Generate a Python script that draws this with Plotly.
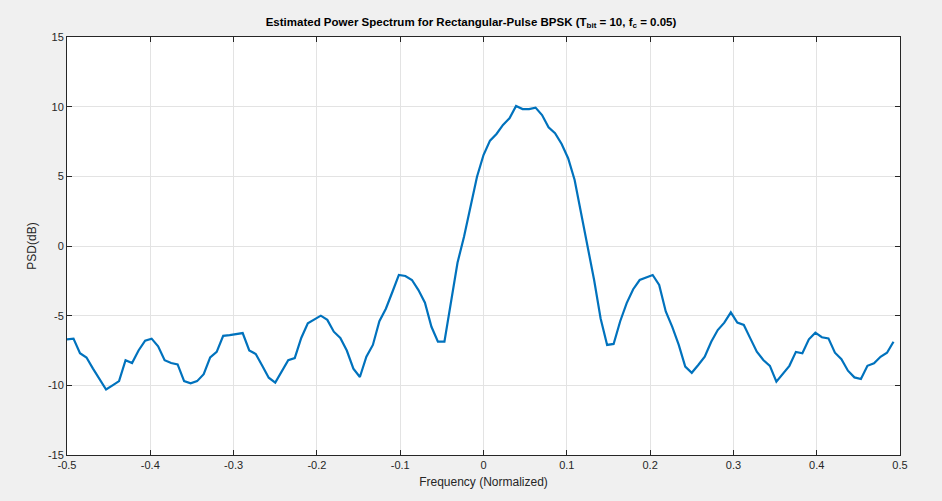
import plotly.graph_objects as go

# Normalized frequency grid (128 bins)
freq = [-0.5, -0.4922, -0.4844, -0.4766, -0.4688, -0.4609, -0.4531, -0.4453,
        -0.4375, -0.4297, -0.4219, -0.4141, -0.4062, -0.3984, -0.3906, -0.3828,
        -0.375, -0.3672, -0.3594, -0.3516, -0.3438, -0.3359, -0.3281, -0.3203,
        -0.3125, -0.3047, -0.2969, -0.2891, -0.2812, -0.2734, -0.2656, -0.2578,
        -0.25, -0.2422, -0.2344, -0.2266, -0.2188, -0.2109, -0.2031, -0.1953,
        -0.1875, -0.1797, -0.1719, -0.1641, -0.1562, -0.1484, -0.1406, -0.1328,
        -0.125, -0.1172, -0.1094, -0.1016, -0.0938, -0.0859, -0.0781, -0.0703,
        -0.0625, -0.0547, -0.0469, -0.0391, -0.0312, -0.0234, -0.0156, -0.0078,
        0.0, 0.0078, 0.0156, 0.0234, 0.0312, 0.0391, 0.0469, 0.0547,
        0.0625, 0.0703, 0.0781, 0.0859, 0.0938, 0.1016, 0.1094, 0.1172,
        0.125, 0.1328, 0.1406, 0.1484, 0.1562, 0.1641, 0.1719, 0.1797,
        0.1875, 0.1953, 0.2031, 0.2109, 0.2188, 0.2266, 0.2344, 0.2422,
        0.25, 0.2578, 0.2656, 0.2734, 0.2812, 0.2891, 0.2969, 0.3047,
        0.3125, 0.3203, 0.3281, 0.3359, 0.3438, 0.3516, 0.3594, 0.3672,
        0.375, 0.3828, 0.3906, 0.3984, 0.4062, 0.4141, 0.4219, 0.4297,
        0.4375, 0.4453, 0.4531, 0.4609, 0.4688, 0.4766, 0.4844, 0.4922]

# Estimated PSD in dB
psd_db = [-6.7, -6.65, -7.7, -8.0, -8.8, -9.6, -10.3, -10.0,
          -9.7, -8.2, -8.4, -7.5, -6.8, -6.65, -7.2, -8.2,
          -8.4, -8.5, -9.7, -9.85, -9.7, -9.2, -8.0, -7.6,
          -6.45, -6.4, -6.35, -6.25, -7.5, -7.75, -8.6, -9.45,
          -9.8, -9.0, -8.2, -8.05, -6.6, -5.55, -5.25, -5.0,
          -5.3, -6.15, -6.6, -7.5, -8.8, -9.4, -7.95, -7.1,
          -5.4, -4.5, -3.3, -2.08, -2.15, -2.44, -3.16, -4.07,
          -5.8, -6.87, -6.87, -4.1, -1.2, 0.67, 2.8, 4.97,
          6.53, 7.56, 8.04, 8.69, 9.17, 10.05, 9.83, 9.83,
          9.93, 9.4, 8.52, 8.09, 7.32, 6.3, 4.74, 2.35,
          0.19, -2.44, -5.2, -7.1, -7.03, -5.4, -4.1, -3.1,
          -2.44, -2.25, -2.08, -2.8, -4.7, -5.8, -7.1, -8.66,
          -9.1, -8.54, -7.95, -6.87, -6.03, -5.5, -4.76, -5.5,
          -5.67, -6.63, -7.59, -8.18, -8.6, -9.74, -9.14, -8.6,
          -7.6, -7.7, -6.7, -6.22, -6.55, -6.63, -7.66, -8.13,
          -8.95, -9.43, -9.55, -8.6, -8.42, -7.95, -7.66, -6.87]

x_ticks = [-0.5, -0.4, -0.3, -0.2, -0.1, 0, 0.1, 0.2, 0.3, 0.4, 0.5]
x_tick_text = ["-0.5", "-0.4", "-0.3", "-0.2", "-0.1", "0", "0.1", "0.2", "0.3", "0.4", "0.5"]
y_ticks = [-15, -10, -5, 0, 5, 10, 15]
y_tick_text = ["-15", "-10", "-5", "0", "5", "10", "15"]

title_text = "<b>Estimated Power Spectrum for Rectangular-Pulse BPSK (T<sub>bit</sub> = 10, f<sub>c</sub> = 0.05)</b>"

fig = go.Figure()
fig.add_trace(go.Scatter(
    x=freq, y=psd_db, mode="lines",
    line=dict(color="#0072BD", width=2.2),
    showlegend=False,
))

axis_common = dict(
    showline=True, linecolor="#262626", linewidth=1, mirror="ticks",
    ticks="inside", ticklen=5, tickcolor="#262626", tickwidth=1,
    showgrid=True, gridcolor="#e3e3e3", gridwidth=1,
    zeroline=False,
    tickfont=dict(family="Liberation Sans, Arial, sans-serif", size=11, color="#262626"),
)

fig.update_layout(
    width=942, height=501,
    paper_bgcolor="#f0f0f0", plot_bgcolor="#ffffff",
    margin=dict(l=67, r=42, t=37, b=46),
    font=dict(family="Liberation Sans, Arial, sans-serif", color="#262626"),
    title=dict(text=title_text, x=0.5, xanchor="center", y=0.956, yanchor="middle",
               font=dict(size=11.5, color="#000000")),
    xaxis=dict(range=[-0.5, 0.5], tickmode="array", tickvals=x_ticks, ticktext=x_tick_text,
               title=dict(text="Frequency (Normalized)", standoff=7,
                          font=dict(size=12, color="#262626")),
               **axis_common),
    yaxis=dict(range=[-15, 15], tickmode="array", tickvals=y_ticks, ticktext=y_tick_text,
               title=dict(text="PSD(dB)", standoff=8,
                          font=dict(size=12, color="#262626")),
               **axis_common),
)

fig.write_html("out.html")
